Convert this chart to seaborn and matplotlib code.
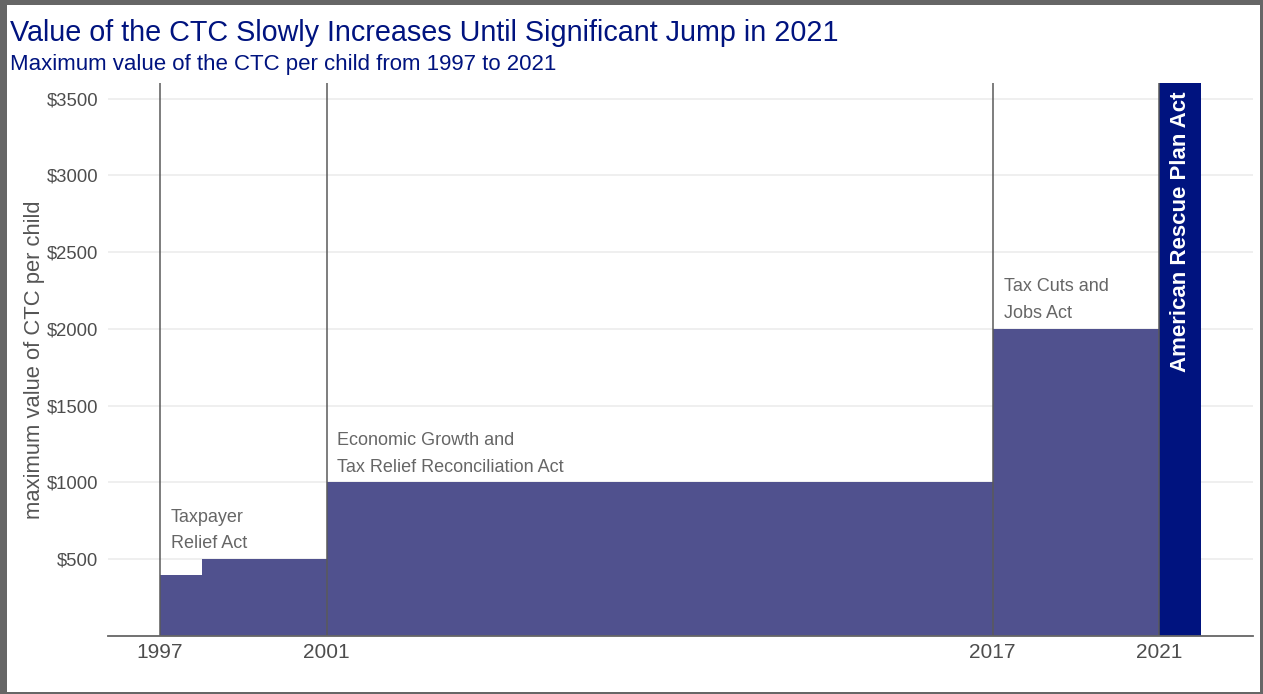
import numpy as np
import pandas as pd
import seaborn as sns
import matplotlib.pyplot as plt
from matplotlib.patches import Rectangle
from matplotlib.ticker import FuncFormatter

# step data: year each value starts, value until next year
years = [1997, 1998, 2001, 2017, 2021, 2022]
values = [400, 500, 1000, 2000, 3600, 3600]
act_years = [1997, 2001, 2017, 2021]
act_labels = ["Taxpayer\nRelief Act", "Economic Growth and\nTax Relief Reconciliation Act",
              "Tax Cuts and\nJobs Act", "American Rescue Plan Act"]
act_values = [500, 1000, 2000, 3600]
yticks = [500, 1000, 1500, 2000, 2500, 3000, 3500]

ctc = pd.DataFrame({"year": years, "value": values})

sns.set_theme(style="whitegrid")
plt.rcParams['font.family'] = ['Liberation Sans', 'DejaVu Sans']

fig = plt.figure(figsize=(12.63, 6.94), dpi=100)
ax = fig.add_axes([0.0855, 0.0836, 0.9065, 0.7964])

fill_col = "#50518E"
navy = "#00137F"

# main fill up to 2021, navy bar for 2021
before = ctc[ctc.year <= 2021]
after = ctc[ctc.year >= 2021]
ax.fill_between(before.year, before.value, step="post", color=fill_col, lw=0, zorder=2)
ax.fill_between(after.year, after.value, step="post", color=navy, lw=0, zorder=2)

for yr in act_years:
    ax.axvline(yr, color="#5a5a5a", lw=1.1, zorder=3)

# annotations
for yr, lab, v in zip(act_years[:3], act_labels[:3], act_values[:3]):
    ax.text(yr + 0.26, v + 45, lab, color="#666666", fontsize=13,
            ha="left", va="bottom", linespacing=1.75, zorder=4)
ax.text(act_years[3] + 0.5, act_values[3] - 55, act_labels[3], color="white",
        fontsize=16, fontweight="bold", rotation=90, ha="center", va="top", zorder=4)

ax.set_xlim(1995.75, 2023.25)
ax.set_ylim(0, 3600)
ax.set_xticks(act_years)
ax.set_yticks(yticks)
ax.yaxis.set_major_formatter(FuncFormatter(lambda v, p: f"${int(v)}"))
ax.tick_params(axis="x", labelsize=15, colors="#4d4d4d", length=0, pad=5)
ax.tick_params(axis="y", labelsize=13.3, colors="#4d4d4d", length=0, pad=7)
ax.grid(axis="x", visible=False)
ax.grid(axis="y", color="#ebebeb", lw=1.1)
ax.set_ylabel("maximum value of CTC per child", fontsize=15.8, color="#555555", labelpad=1)
ax.set_xlabel("")
for s in ["left", "right", "top"]:
    ax.spines[s].set_visible(False)
ax.spines["bottom"].set_color("#666666")
ax.spines["bottom"].set_linewidth(1.3)
ax.spines["bottom"].set_zorder(5)

fig.text(0.0079, 1 - 41 / 694, "Value of the CTC Slowly Increases Until Significant Jump in 2021",
         color=navy, fontsize=20.7, ha="left", va="baseline")
fig.text(0.0079, 1 - 70 / 694, "Maximum value of the CTC per child from 1997 to 2021",
         color=navy, fontsize=16, ha="left", va="baseline")

# frame around the figure
W, H = 1263, 694
for x0, y0, w, h in [(0, 0, 7, H), (0, H - 5, W, 5), (W - 3, 0, 3, H), (0, 0, W, 2)]:
    fig.add_artist(Rectangle((x0 / W, y0 / H), w / W, h / H, transform=fig.transFigure,
                             color="#666666", lw=0))

fig.savefig("out.png", dpi=100)
